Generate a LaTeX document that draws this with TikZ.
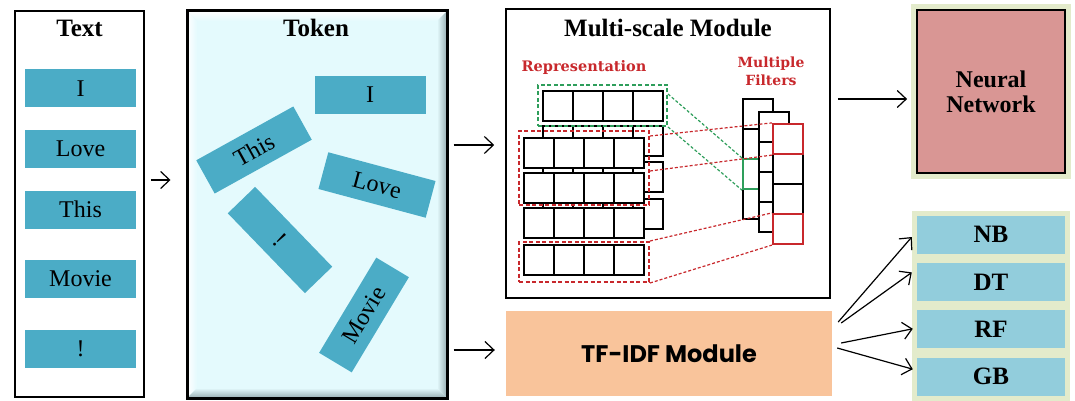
\documentclass[tikz,border=0pt]{standalone}
\usepackage{fontspec}
\setmainfont{Liberation Serif}
\newfontfamily\slabfont{DejaVu Serif}
\newfontfamily\geofont{Poppins}
\usetikzlibrary{arrows.meta,positioning}

\definecolor{wordblue}{HTML}{4BACC6}
\definecolor{tokenbg}{HTML}{E4FAFD}
\definecolor{bevel}{HTML}{97ADB1}
\definecolor{nnrose}{HTML}{D99694}
\definecolor{clsblue}{HTML}{92CDDC}
\definecolor{glow}{HTML}{E3EBCB}
\definecolor{peach}{HTML}{F9C49B}
\definecolor{repred}{HTML}{C8282C}
\definecolor{filtgreen}{HTML}{2E9E5B}

\begin{document}
\begin{tikzpicture}[
  x=1pt, y=-1pt,
  word/.style={fill=wordblue, minimum width=111pt, minimum height=38pt,
    inner sep=0pt, font=\fontsize{24}{26}\selectfont},
  title/.style={font=\bfseries\fontsize{25}{28}\selectfont},
  panel/.style={draw, line width=1.6pt, inner sep=0pt},
  cell/.style={draw, fill=white, line width=2.2pt},
  hilite/.style={draw=#1, line width=2.2pt, minimum size=30pt, inner sep=0pt},
  reddash/.style={draw=repred, line width=2pt, dash pattern=on 4pt off 2.5pt,
    inner sep=0pt},
  link/.style={draw=#1, line width=1.2pt, dash pattern=on 3pt off 2pt},
  cls/.style={fill=clsblue, minimum width=148pt, minimum height=38pt,
    inner sep=0pt, font=\bfseries\fontsize{25}{27}\selectfont,
    preaction={draw=glow, line width=10pt}},
  arr/.style={-{Straight Barb[length=9pt,width=17pt]}, line width=1.2pt}
]
  \useasboundingbox (0,0) rectangle (1075,401);

  % input sentence
  \node[panel, minimum width=129pt, minimum height=386pt] (textbox) at (79.5,204) {};
  \node[title] (texttitle) at (79.5,28) {Text};
  \node[word] (w1) at (80.5,88.5) {I};
  \node[word] (w2) at (80.5,149) {Love};
  \node[word] (w3) at (80.5,209.5) {This};
  \node[word] (w4) at (80.5,278.5) {Movie};
  \node[word] (w5) at (80.5,348.5) {!};

  % token panel with bevelled edge
  \fill[tokenbg] (187,11) rectangle (447,398);
  \shade[top color=white, bottom color=tokenbg] (187,11) -- (447,11) -- (437,21) -- (197,21) -- cycle;
  \shade[left color=white, right color=tokenbg] (187,11) -- (197,21) -- (197,388) -- (187,398) -- cycle;
  \shade[left color=tokenbg, right color=bevel] (447,11) -- (447,398) -- (437,388) -- (437,21) -- cycle;
  \shade[top color=tokenbg, bottom color=bevel] (187,398) -- (447,398) -- (437,388) -- (197,388) -- cycle;
  \node[panel, line width=3pt, minimum width=260pt, minimum height=387pt] (tokenbox) at (317,204.5) {};
  \node[title] (tokentitle) at (316,28) {Token};
  \node[word] (t1) at (370,95) {I};
  \node[word, rotate=29] (t2) at (254,150) {This};
  \node[word, rotate=-15] (t3) at (377,185) {Love};
  \node[word, rotate=-46] (t4) at (280,240) {!};
  \node[word, rotate=59] (t5) at (364,315) {Movie};

  % multi-scale module
  \node[panel, minimum width=324pt, minimum height=289pt] (multi) at (668,153.5) {};
  \node[title] (multititle) at (668,28) {Multi-scale Module};
  \node[font=\slabfont\bfseries\fontsize{14.5}{16}\selectfont, text=repred] (replabel) at (584,68) {Representation};
  \node[font=\slabfont\bfseries\fontsize{14}{18}\selectfont, text=repred, align=center] (filtlabel) at (771,71) {Multiple\\Filters};

  \foreach \y in {91,126,162,199}
    \draw[cell] (543,\y) rectangle ++(120,30) (573,\y) -- ++(0,30) (603,\y) -- ++(0,30) (633,\y) -- ++(0,30);
  \foreach \y in {138,173,208,245}
    \draw[cell] (524,\y) rectangle ++(120,30) (554,\y) -- ++(0,30) (584,\y) -- ++(0,30) (614,\y) -- ++(0,30);

  \node[reddash, draw=filtgreen, minimum width=129pt, minimum height=41pt] (greenbox) at (602.5,105.5) {};
  \node[reddash, minimum width=130pt, minimum height=74pt] (repA) at (584,168) {};
  \node[reddash, minimum width=130pt, minimum height=40pt] (repB) at (584,262) {};

  \draw[cell] (743,99) rectangle ++(30,120) (743,129) -- ++(30,0) (743,159) -- ++(30,0) (743,189) -- ++(30,0);
  \node[hilite=filtgreen] (greencell) at (758,174) {};
  \draw[cell] (759,112) rectangle ++(30,120) (759,142) -- ++(30,0) (759,172) -- ++(30,0) (759,202) -- ++(30,0);
  \draw[cell] (773,124) rectangle ++(30,120) (773,154) -- ++(30,0) (773,184) -- ++(30,0) (773,214) -- ++(30,0);
  \node[hilite=repred] (redtop) at (788,139) {};
  \node[hilite=repred] (redbot) at (788,229) {};

  \draw[link=filtgreen] ([yshift=-10pt]greenbox.north east) -- (greencell.north west);
  \draw[link=filtgreen] (greenbox.south east) -- (greencell.south west);
  \draw[link=repred] ([yshift=-6pt]repA.north east) -- (redtop.north west);
  \draw[link=repred] ([yshift=-3pt]repA.east) -- (redtop.south west);
  \draw[link=repred] (repB.north east) -- (redbot.north west);
  \draw[link=repred] (repB.south east) -- (redbot.south west);

  % tf-idf branch and classifiers
  \node[fill=peach, minimum width=326pt, minimum height=85pt,
    font=\geofont\bfseries\fontsize{24}{26}\selectfont] (tfidf) at (669,353.5) {TF-IDF Module};

  \node[draw, fill=nnrose, line width=1.8pt, minimum width=148pt, minimum height=163pt,
    align=center, font=\bfseries\fontsize{24}{25}\selectfont,
    preaction={draw=glow, line width=12pt}] (nn) at (991,91.5) {Neural\\Network};

  \node[cls] (nb) at (991,234.5) {NB};
  \node[cls, below=9pt of nb] (dt) {DT};
  \node[cls, below=9pt of dt] (rf) {RF};
  \node[cls, below=9pt of rf] (gb) {GB};

  \draw[arr] ([xshift=6pt,yshift=24pt]textbox.east) -- ([xshift=-15pt,yshift=24.5pt]tokenbox.west);
  \draw[arr] ([xshift=5pt,yshift=59.5pt]tokenbox.east) -- ([xshift=-11pt,yshift=8.5pt]multi.west);
  \draw[arr] ([xshift=5pt,yshift=-145.5pt]tokenbox.east) -- ([xshift=-11pt,yshift=3.5pt]tfidf.west);
  \draw[arr] ([xshift=7pt,yshift=54.5pt]multi.east) -- ([xshift=-9pt,yshift=-7.5pt]nn.west);
  \draw[arr] ([xshift=6pt,yshift=31.5pt]tfidf.east) -- ([xshift=-5pt,yshift=-2.5pt]nb.west);
  \draw[arr] ([xshift=9pt,yshift=30.5pt]tfidf.east) -- ([xshift=-5pt,yshift=9.5pt]dt.west);
  \draw[arr] ([xshift=9pt,yshift=10.5pt]tfidf.east) -- ([xshift=-4pt,yshift=0.5pt]rf.west);
  \draw[arr] ([xshift=5pt,yshift=5.5pt]tfidf.east) -- ([xshift=-4pt,yshift=7.5pt]gb.west);
\end{tikzpicture}
\end{document}
